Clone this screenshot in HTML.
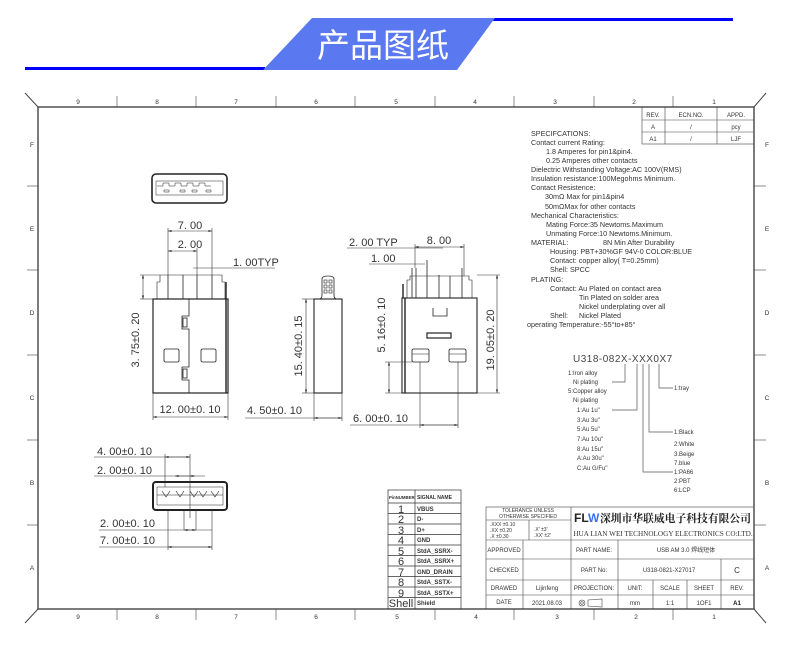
<!DOCTYPE html>
<html><head><meta charset="utf-8"><style>
html,body{margin:0;padding:0;background:#fff;}
svg{display:block;}
text{font-family:"Liberation Sans","Noto Sans CJK SC",sans-serif;fill:#333;}
.s{font-size:7.2px;fill:#444;}
.m{font-family:"Liberation Serif","Noto Serif CJK SC",serif;font-size:11px;fill:#222;}
.t{font-size:6.5px;fill:#444;}
</style></head><body>
<svg width="790" height="663" viewBox="0 0 790 663" xmlns="http://www.w3.org/2000/svg">
<defs>
<marker id="a" viewBox="0 0 10 10" refX="10" refY="5" markerWidth="6" markerHeight="6" orient="auto-start-reverse"><path d="M0,2L10,5L0,8z" fill="#222"/></marker>
</defs>
<!-- header -->
<rect x="25" y="67" width="240" height="3" fill="#0000ff"/>
<rect x="493" y="18" width="240" height="3" fill="#0000ff"/>
<polygon points="312,18 495,18 457,70 263,70" fill="#5a78ef"/>
<text x="383" y="57" text-anchor="middle" style="font-family:'Noto Sans CJK SC',sans-serif;font-size:33px;fill:#fff">产品图纸</text>

<!-- frame -->
<g stroke="#444" fill="none" stroke-width="1">
<rect x="38" y="107" width="716" height="502" stroke-width="1.4"/>
<line x1="25" y1="93" x2="38" y2="107"/><line x1="766" y1="93" x2="754" y2="107"/>
<line x1="25" y1="623" x2="38" y2="609"/><line x1="766" y1="623" x2="754" y2="609"/>
<g stroke-width="0.6">
<line x1="117" y1="96" x2="117" y2="107"/><line x1="196" y1="96" x2="196" y2="107"/><line x1="276" y1="96" x2="276" y2="107"/><line x1="355" y1="96" x2="355" y2="107"/><line x1="435" y1="96" x2="435" y2="107"/><line x1="514" y1="96" x2="514" y2="107"/><line x1="594" y1="96" x2="594" y2="107"/><line x1="673" y1="96" x2="673" y2="107"/>
<line x1="117" y1="609" x2="117" y2="620"/><line x1="196" y1="609" x2="196" y2="620"/><line x1="276" y1="609" x2="276" y2="620"/><line x1="355" y1="609" x2="355" y2="620"/><line x1="435" y1="609" x2="435" y2="620"/><line x1="514" y1="609" x2="514" y2="620"/><line x1="594" y1="609" x2="594" y2="620"/><line x1="673" y1="609" x2="673" y2="620"/>
<line x1="27" y1="186" x2="38" y2="186"/><line x1="27" y1="270" x2="38" y2="270"/><line x1="27" y1="355" x2="38" y2="355"/><line x1="27" y1="440" x2="38" y2="440"/><line x1="27" y1="525" x2="38" y2="525"/>
<line x1="754" y1="186" x2="766" y2="186"/><line x1="754" y1="270" x2="766" y2="270"/><line x1="754" y1="355" x2="766" y2="355"/><line x1="754" y1="440" x2="766" y2="440"/><line x1="754" y1="525" x2="766" y2="525"/>
</g></g>
<g class="t" text-anchor="middle">
<text x="78" y="104">9</text><text x="157" y="104">8</text><text x="236" y="104">7</text><text x="316" y="104">6</text><text x="396" y="104">5</text><text x="475" y="104">4</text><text x="555" y="104">3</text><text x="634" y="104">2</text><text x="714" y="104">1</text>
<text x="78" y="619">9</text><text x="157" y="619">8</text><text x="236" y="619">7</text><text x="316" y="619">6</text><text x="397" y="619">5</text><text x="476" y="619">4</text><text x="557" y="619">3</text><text x="636" y="619">2</text><text x="714" y="619">1</text>
<text x="32" y="147">F</text><text x="32" y="231">E</text><text x="32" y="315">D</text><text x="32" y="400">C</text><text x="32" y="485">B</text><text x="32" y="570">A</text>
<text x="767" y="147">F</text><text x="767" y="231">E</text><text x="767" y="315">D</text><text x="767" y="400">C</text><text x="767" y="485">B</text><text x="767" y="570">A</text>
</g>

<!-- rev table -->
<g stroke="#444" stroke-width="0.6" fill="none">
<rect x="642" y="107" width="112" height="37"/>
<line x1="642" y1="120" x2="754" y2="120"/><line x1="642" y1="132" x2="754" y2="132"/>
<line x1="665" y1="107" x2="665" y2="144"/><line x1="717" y1="107" x2="717" y2="144"/>
</g>
<g class="t" text-anchor="middle" style="font-size:6px">
<text x="653" y="117">REV.</text><text x="691" y="117">ECN.NO.</text><text x="736" y="117">APPD.</text>
<text x="653" y="129">A</text><text x="691" y="129">/</text><text x="736" y="129">pcy</text>
<text x="653" y="141">A1</text><text x="691" y="141">/</text><text x="736" y="141">LJF</text>
</g>

<!-- spec text -->
<g class="s">
<text x="531" y="136">SPECIFCATIONS:</text>
<text x="531" y="145">Contact current Rating:</text>
<text x="546" y="154">1.8 Amperes for pin1&amp;pin4.</text>
<text x="546" y="163">0.25 Amperes other contacts</text>
<text x="531" y="172">Dielectric Withstanding Voltage:AC 100V(RMS)</text>
<text x="531" y="181">Insulation resistance:100Megohms Minimum.</text>
<text x="531" y="190">Contact Resistence:</text>
<text x="545" y="199">30mΩ Max for pin1&amp;pin4</text>
<text x="545" y="209">50mΩMax for other contacts</text>
<text x="531" y="218">Mechanical Characteristics:</text>
<text x="546" y="227">Mating Force:35 Newtoms.Maximum</text>
<text x="546" y="236">Unmating Force:10 Newtoms.Minimum.</text>
<text x="531" y="245">MATERIAL:</text><text x="603" y="245">8N Min After Durability</text>
<text x="550" y="254">Housing: PBT+30%GF 94V-0 COLOR:BLUE</text>
<text x="550" y="263">Contact: copper alloy( T=0.25mm)</text>
<text x="550" y="272">Shell:</text><text x="570" y="272">SPCC</text>
<text x="531" y="282">PLATING:</text>
<text x="550" y="291">Contact: Au Plated on contact area</text>
<text x="579" y="300">Tin Plated on solder area</text>
<text x="579" y="309">Nickel underplating over all</text>
<text x="550" y="318">Shell:</text><text x="579" y="318">Nickel Plated</text>
<text x="527" y="327">operating Temperature:-55°to+85°</text>
</g>

<!-- part code -->
<text x="573" y="362" style="font-size:10px;fill:#444;letter-spacing:0.5px">U318-082X-XXX0X7</text>
<g stroke="#555" stroke-width="0.7" fill="none">
<polyline points="625,364 625,382 612,382"/>
<polyline points="637,364 637,410 612,410"/>
<polyline points="643,364 643,472 673,472"/>
<polyline points="649,364 649,432 673,432"/>
<polyline points="659,364 659,388 673,388"/>
</g>
<g class="t" style="font-size:6px">
<text x="568" y="375">1:Iron alloy</text><text x="573" y="384">Ni plating</text>
<text x="568" y="393">5:Copper alloy</text><text x="573" y="402">Ni plating</text>
<text x="577" y="412">1:Au 1u"</text><text x="577" y="422">3:Au 3u"</text><text x="577" y="431">5:Au 5u"</text><text x="577" y="441">7:Au 10u"</text><text x="577" y="451">8:Au 15u"</text><text x="577" y="460">A:Au 30u"</text><text x="577" y="470">C:Au G/Fu"</text>
<text x="674" y="390">1:tray</text>
<text x="674" y="434">1:Black</text><text x="674" y="446">2:White</text><text x="674" y="456">3.Beige</text><text x="674" y="465">7.blue</text><text x="674" y="474">1:PA66</text><text x="674" y="483">2:PBT</text><text x="674" y="492">6:LCP</text>
</g>

<!-- drawings -->
<g stroke="#222" stroke-width="0.8" fill="none">
<rect x="152" y="174" width="75" height="29" rx="4" stroke-width="1.6"/>
<rect x="156" y="181" width="67" height="14" stroke-width="0.5"/>
<path d="M157,186 h6 v-3 h6 v3 h6 v-3 h6 v3 h6 v-3 h6 v3 h6 v-3 h6 v3 h6" stroke-width="0.5"/>
<path d="M164,192 h5 v-2 h-5z M180,192 h5 v-2 h-5z M192,192 h5 v-2 h-5z M206,192 h5 v-2 h-5z" stroke-width="0.5"/>

<rect x="153" y="299" width="75" height="94" stroke-width="1.2"/>
<polyline points="157,299 157,282 160,282 160,275 222,275 222,282 225,282 225,299" stroke-width="0.6"/>
<line x1="168" y1="275" x2="168" y2="299"/><line x1="183" y1="275" x2="183" y2="299"/><line x1="197" y1="275" x2="197" y2="299"/><line x1="212" y1="275" x2="212" y2="299"/>
<line x1="226" y1="282" x2="226" y2="299" stroke-width="1.4"/>
<line x1="226" y1="299" x2="226" y2="393" stroke-width="1.4"/>
<polyline points="189,299 189,316 182,316 182,329 189,329 189,367 182,367 182,380 189,380 189,393"/>
<rect x="183" y="318" width="4" height="9"/><rect x="183" y="369" width="4" height="9"/>
<rect x="164" y="349" width="15" height="13" rx="1.5"/><rect x="201" y="349" width="15" height="13" rx="1.5"/>
<rect x="314" y="299" width="28" height="94" stroke-width="1.1"/>
<path d="M319,299 q3,0 3,-4 v-16 q0,-3 6,-3 q6,0 6,3 v16 q0,4 3,4"/>
<g stroke-width="0.6"><rect x="324" y="280" width="3" height="3"/><rect x="329" y="280" width="3" height="3"/><rect x="324" y="285" width="3" height="3"/><rect x="329" y="285" width="3" height="3"/><rect x="324" y="290" width="3" height="3"/><rect x="329" y="290" width="3" height="3"/></g>
<rect x="402" y="298" width="75" height="95" stroke-width="1.1"/>
<line x1="405" y1="298" x2="405" y2="393" stroke-width="1.4"/>
<line x1="403" y1="284" x2="403" y2="298" stroke-width="1.4"/>
<polyline points="407,298 407,280 410,280 410,276 469,276 469,280 472,280 472,298" stroke-width="0.6"/>
<line x1="412" y1="268" x2="412" y2="298"/><line x1="416" y1="268" x2="416" y2="298"/><line x1="427" y1="260" x2="427" y2="298"/><line x1="439" y1="275" x2="439" y2="298"/><line x1="450" y1="276" x2="450" y2="298"/><line x1="462" y1="268" x2="462" y2="298"/>
<polyline points="433,308 433,316 447,316 447,308"/>
<rect x="427" y="333" width="24" height="5" stroke-width="1.2"/>
<rect x="412" y="349" width="17" height="13" rx="1.5"/><rect x="449" y="349" width="17" height="13" rx="1.5"/>
<line x1="412" y1="354" x2="429" y2="354" stroke-width="0.5"/><line x1="449" y1="354" x2="466" y2="354" stroke-width="0.5"/>
<rect x="153" y="482" width="74" height="28" rx="3" stroke-width="2"/>
<rect x="157" y="487" width="66" height="18" stroke-width="0.5"/>
<line x1="157" y1="495" x2="223" y2="495" stroke-width="0.5"/>
<path d="M162,491 l4,6 l4,-6 M176,491 l4,6 l4,-6 M190,491 l4,6 l4,-6 M199,491 l4,6 l4,-6 M211,491 l4,6 l4,-6" stroke-width="0.6"/>
</g>

<!-- dimensions -->
<g stroke="#333" stroke-width="0.6" fill="none">
<line x1="168" y1="228" x2="168" y2="275"/><line x1="212" y1="228" x2="212" y2="275"/>
<line x1="168" y1="231" x2="212" y2="231" marker-start="url(#a)" marker-end="url(#a)"/>
<line x1="168" y1="251" x2="197" y2="251" marker-start="url(#a)" marker-end="url(#a)"/>
<line x1="197" y1="248" x2="197" y2="275"/>
<line x1="193" y1="268" x2="275" y2="268"/>
<line x1="140" y1="275" x2="160" y2="275"/><line x1="140" y1="299" x2="153" y2="299"/>
<line x1="143" y1="275" x2="143" y2="299" marker-start="url(#a)" marker-end="url(#a)"/>
<line x1="153" y1="393" x2="153" y2="420"/><line x1="228" y1="393" x2="228" y2="420"/>
<line x1="153" y1="417" x2="228" y2="417" marker-start="url(#a)" marker-end="url(#a)"/>
<line x1="302" y1="299" x2="314" y2="299"/><line x1="302" y1="393" x2="314" y2="393"/>
<line x1="306" y1="299" x2="306" y2="393" marker-start="url(#a)" marker-end="url(#a)"/>
<line x1="314" y1="393" x2="314" y2="421"/><line x1="342" y1="393" x2="342" y2="421"/>
<line x1="245" y1="418" x2="342" y2="418"/>
<line x1="314" y1="418" x2="342" y2="418" marker-start="url(#a)" marker-end="url(#a)"/>
<line x1="347" y1="248" x2="443" y2="248"/>
<line x1="415" y1="247" x2="464" y2="247" marker-start="url(#a)" marker-end="url(#a)"/>
<line x1="415" y1="244" x2="415" y2="268"/><line x1="464" y1="244" x2="464" y2="276"/>
<line x1="369" y1="264" x2="425" y2="264"/>
<line x1="385" y1="362" x2="412" y2="362"/><line x1="385" y1="393" x2="402" y2="393"/>
<line x1="389" y1="362" x2="389" y2="393" marker-start="url(#a)" marker-end="url(#a)"/>
<line x1="477" y1="275" x2="500" y2="275"/><line x1="477" y1="393" x2="500" y2="393"/>
<line x1="497" y1="275" x2="497" y2="393" marker-start="url(#a)" marker-end="url(#a)"/>
<line x1="420" y1="362" x2="420" y2="428"/><line x1="458" y1="362" x2="458" y2="428"/>
<line x1="350" y1="425" x2="458" y2="425"/>
<line x1="420" y1="425" x2="458" y2="425" marker-start="url(#a)" marker-end="url(#a)"/>
<line x1="165" y1="454" x2="165" y2="487"/><line x1="190" y1="454" x2="190" y2="518"/>
<line x1="94" y1="457" x2="190" y2="457"/>
<line x1="165" y1="457" x2="190" y2="457" marker-start="url(#a)" marker-end="url(#a)"/>
<line x1="94" y1="476" x2="205" y2="476"/>
<line x1="175" y1="476" x2="195" y2="476" marker-start="url(#a)" marker-end="url(#a)"/>
<line x1="184" y1="510" x2="184" y2="530"/><line x1="196" y1="510" x2="196" y2="530"/>
<line x1="99" y1="530" x2="212" y2="530"/>
<line x1="184" y1="530" x2="196" y2="530" marker-start="url(#a)" marker-end="url(#a)"/>
<line x1="168" y1="510" x2="168" y2="550"/><line x1="212" y1="510" x2="212" y2="550"/>
<line x1="99" y1="547" x2="212" y2="547"/>
<line x1="168" y1="547" x2="212" y2="547" marker-start="url(#a)" marker-end="url(#a)"/>
</g>
<g class="m">
<text x="190" y="229" text-anchor="middle">7. 00</text>
<text x="190" y="248" text-anchor="middle">2. 00</text>
<text x="233" y="266">1. 00TYP</text>
<text transform="translate(139,340) rotate(-90)" text-anchor="middle">3. 75±0. 20</text>
<text x="190" y="413" text-anchor="middle">12. 00±0. 10</text>
<text transform="translate(302,346) rotate(-90)" text-anchor="middle">15. 40±0. 15</text>
<text x="247" y="414">4. 50±0. 10</text>
<text x="349" y="246">2. 00 TYP</text>
<text x="439" y="244" text-anchor="middle">8. 00</text>
<text x="371" y="262">1. 00</text>
<text transform="translate(385,325) rotate(-90)" text-anchor="middle">5. 16±0. 10</text>
<text transform="translate(494,340) rotate(-90)" text-anchor="middle">19. 05±0. 20</text>
<text x="353" y="422">6. 00±0. 10</text>
<text x="97" y="455">4. 00±0. 10</text>
<text x="97" y="474">2. 00±0. 10</text>
<text x="100" y="527">2. 00±0. 10</text>
<text x="100" y="544">7. 00±0. 10</text>
</g>

<!-- pin table -->
<g stroke="#333" stroke-width="0.7" fill="none">
<rect x="388" y="490" width="73" height="119"/>
<line x1="388" y1="503" x2="461" y2="503"/>
<line x1="415" y1="490" x2="415" y2="609"/>
<line x1="388" y1="513.5" x2="461" y2="513.5"/><line x1="388" y1="524" x2="461" y2="524"/><line x1="388" y1="534.5" x2="461" y2="534.5"/><line x1="388" y1="545" x2="461" y2="545"/><line x1="388" y1="555.5" x2="461" y2="555.5"/><line x1="388" y1="566" x2="461" y2="566"/><line x1="388" y1="576.5" x2="461" y2="576.5"/><line x1="388" y1="587" x2="461" y2="587"/><line x1="388" y1="597.5" x2="461" y2="597.5"/>
</g>
<g style="font-size:5px;font-weight:bold"><text x="389" y="499" style="font-size:4.3px">PinNUMBER</text><text x="417" y="499" style="font-size:5px">SIGNAL NAME</text></g>
<g style="font-size:11px" text-anchor="middle"><text x="401" y="513">1</text><text x="401" y="523">2</text><text x="401" y="534">3</text><text x="401" y="544">4</text><text x="401" y="555">5</text><text x="401" y="565">6</text><text x="401" y="576">7</text><text x="401" y="586">8</text><text x="401" y="597">9</text><text x="401" y="607">Shell</text></g>
<g style="font-size:6px;font-weight:bold"><text x="417" y="511">VBUS</text><text x="417" y="521">D-</text><text x="417" y="532">D+</text><text x="417" y="542">GND</text><text x="417" y="553">StdA_SSRX-</text><text x="417" y="563">StdA_SSRX+</text><text x="417" y="574">GND_DRAIN</text><text x="417" y="584">StdA_SSTX-</text><text x="417" y="595">StdA_SSTX+</text><text x="417" y="605">Shield</text></g>

<!-- title block -->
<g stroke="#444" stroke-width="0.6" fill="none">
<rect x="486" y="507" width="268" height="102"/>
<line x1="486" y1="540" x2="754" y2="540"/><line x1="486" y1="559" x2="754" y2="559"/><line x1="486" y1="580" x2="754" y2="580"/><line x1="486" y1="595" x2="754" y2="595"/>
<line x1="486" y1="520" x2="571" y2="520"/><line x1="529" y1="520" x2="529" y2="540"/>
<line x1="571" y1="507" x2="571" y2="609"/><line x1="523" y1="540" x2="523" y2="609"/>
<line x1="618" y1="540" x2="618" y2="609"/>
<line x1="721" y1="559" x2="721" y2="609"/>
<line x1="653" y1="580" x2="653" y2="609"/><line x1="687" y1="580" x2="687" y2="609"/>
<circle cx="582" cy="603" r="3"/><circle cx="582" cy="603" r="1.3"/><path d="M588,600 L602,599 V607 L588,606Z"/>
</g>
<g class="t" style="font-size:5px" text-anchor="middle">
<text x="528" y="512">TOLERANCE UNLESS</text><text x="528" y="518">OTHERWISE SPECIFIED</text>
</g>
<g class="t" style="font-size:5px"><text x="490" y="526">.XXX ±0.10</text><text x="490" y="532">.XX  ±0.20</text><text x="490" y="538">.X   ±0.30</text><text x="534" y="531">.X'  ±3'</text><text x="534" y="537">.XX' ±2'</text></g>
<text x="574" y="522" style="font-size:12px;font-weight:bold;fill:#222">FL</text><text x="588" y="522" style="font-size:12px;font-weight:bold;fill:#3b6ef5">W</text>
<text x="600" y="522" textLength="151" lengthAdjust="spacingAndGlyphs" style="font-family:'Noto Serif CJK SC',serif;font-size:10.8px;font-weight:bold;fill:#222">深圳市华联威电子科技有限公司</text>
<text x="663" y="536" text-anchor="middle" style="font-family:'Liberation Serif',serif;font-size:7.2px;fill:#333">HUA LIAN WEI TECHNOLOGY ELECTRONICS CO:LTD.</text>
<g class="t" style="font-size:6px" text-anchor="middle">
<text x="504" y="552">APPROVED</text><text x="594" y="552">PART NAME:</text><text x="686" y="552">USB AM 3.0 焊线短体</text>
<text x="504" y="572">CHECKED</text><text x="594" y="572">PART No:</text><text x="669" y="572">U318-0821-X27017</text><text x="737" y="573" style="font-size:8px">C</text>
<text x="504" y="590">DRAWED</text><text x="547" y="590">Lijinfeng</text><text x="594" y="590">PROJECTION:</text><text x="635" y="590">UNIT:</text><text x="670" y="590">SCALE</text><text x="704" y="590">SHEET</text><text x="737" y="590">REV.</text>
<text x="504" y="604">DATE</text><text x="547" y="605">2021.08.03</text><text x="635" y="605">mm</text><text x="670" y="605">1:1</text><text x="704" y="605">1OF1</text><text x="737" y="605" style="font-weight:bold;fill:#111">A1</text>
</g>
</svg>
</body></html>
